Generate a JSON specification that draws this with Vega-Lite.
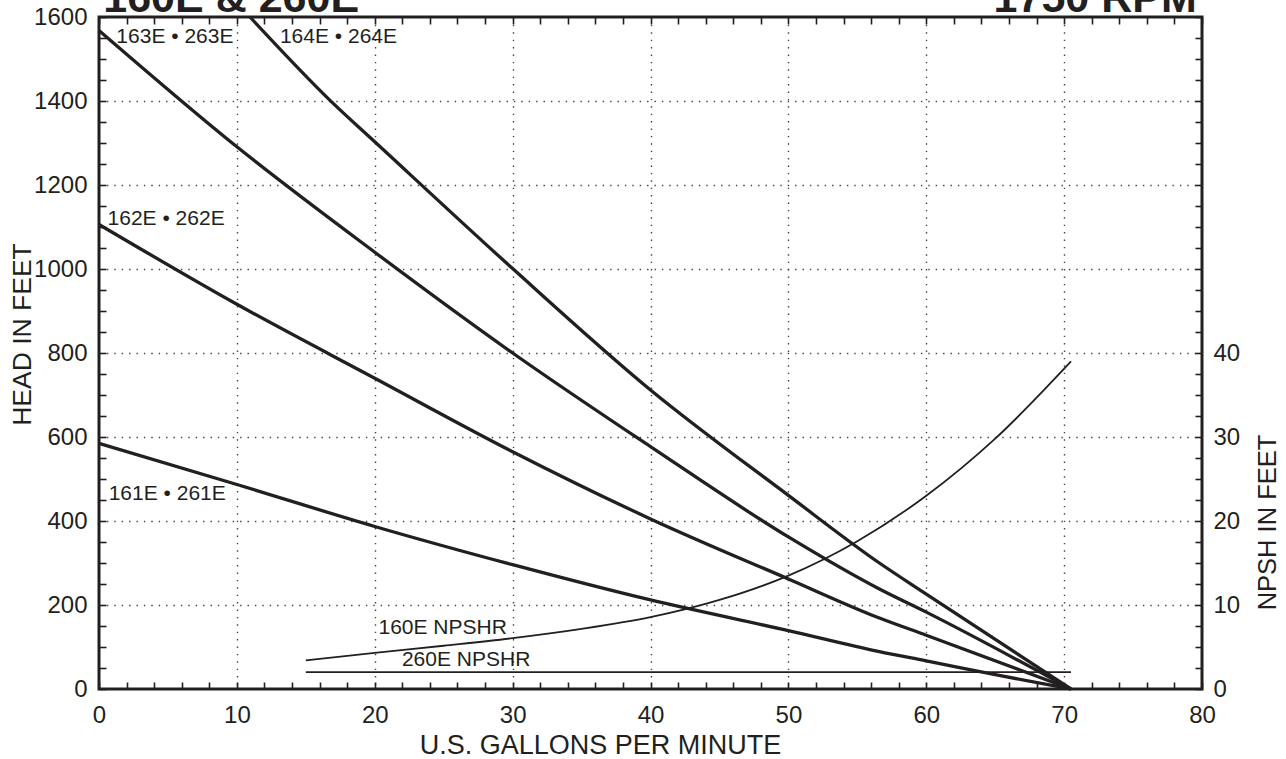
{
  "$schema": "https://vega.github.io/schema/vega-lite/v6.json",
  "width": 1103,
  "height": 672,
  "autosize": {"type": "none"},
  "padding": {"left": 99, "top": 17, "right": 84, "bottom": 70},
  "background": "white",
  "config": {
    "font": "Liberation Sans",
    "view": {"stroke": "#231f20", "strokeWidth": 3},
    "axis": {
      "domain": false,
      "labelFont": "Liberation Sans",
      "labelFontSize": 24,
      "labelColor": "#231f20",
      "titleFont": "Liberation Sans",
      "titleFontSize": 26,
      "titleFontWeight": "normal",
      "titleColor": "#231f20",
      "tickColor": "#231f20",
      "tickWidth": 1.6,
      "tickSize": -7,
      "labelFlush": false,
      "labelOverlap": false,
      "labelBound": false,
      "gridColor": "#444444",
      "gridDash": [1.4, 6],
      "gridWidth": 1.4
    }
  },
  "datasets": {
    "head": [
      {"model": "161E", "gpm": 0, "head": 585},
      {"model": "161E", "gpm": 10, "head": 487},
      {"model": "161E", "gpm": 20, "head": 387},
      {"model": "161E", "gpm": 30, "head": 296},
      {"model": "161E", "gpm": 40, "head": 212},
      {"model": "161E", "gpm": 50, "head": 139},
      {"model": "161E", "gpm": 56.6, "head": 89},
      {"model": "161E", "gpm": 60, "head": 67},
      {"model": "161E", "gpm": 65, "head": 34},
      {"model": "161E", "gpm": 70.5, "head": 0},
      {"model": "162E", "gpm": 0, "head": 1106},
      {"model": "162E", "gpm": 10, "head": 916},
      {"model": "162E", "gpm": 20, "head": 740},
      {"model": "162E", "gpm": 30, "head": 565},
      {"model": "162E", "gpm": 40, "head": 405},
      {"model": "162E", "gpm": 50, "head": 262},
      {"model": "162E", "gpm": 56.6, "head": 169},
      {"model": "162E", "gpm": 60, "head": 128},
      {"model": "162E", "gpm": 70.5, "head": 0},
      {"model": "163E", "gpm": 0, "head": 1568},
      {"model": "163E", "gpm": 10, "head": 1291},
      {"model": "163E", "gpm": 20, "head": 1040},
      {"model": "163E", "gpm": 30, "head": 800},
      {"model": "163E", "gpm": 40, "head": 577},
      {"model": "163E", "gpm": 50, "head": 362},
      {"model": "163E", "gpm": 56.6, "head": 238},
      {"model": "163E", "gpm": 60, "head": 183},
      {"model": "163E", "gpm": 70.5, "head": 0},
      {"model": "164E", "gpm": 10.95, "head": 1600},
      {"model": "164E", "gpm": 16.87, "head": 1398},
      {"model": "164E", "gpm": 20, "head": 1303},
      {"model": "164E", "gpm": 30, "head": 1001},
      {"model": "164E", "gpm": 40, "head": 712},
      {"model": "164E", "gpm": 50, "head": 461},
      {"model": "164E", "gpm": 56.6, "head": 300},
      {"model": "164E", "gpm": 60, "head": 226},
      {"model": "164E", "gpm": 70.5, "head": 0}
    ],
    "npsh": [
      {"model": "160E", "gpm": 15, "npsh": 3.4},
      {"model": "160E", "gpm": 20, "npsh": 4.3},
      {"model": "160E", "gpm": 25, "npsh": 5.15},
      {"model": "160E", "gpm": 30, "npsh": 6.05},
      {"model": "160E", "gpm": 35, "npsh": 7.15},
      {"model": "160E", "gpm": 40, "npsh": 8.55},
      {"model": "160E", "gpm": 45, "npsh": 10.6},
      {"model": "160E", "gpm": 50, "npsh": 13.5},
      {"model": "160E", "gpm": 55, "npsh": 17.6},
      {"model": "160E", "gpm": 60, "npsh": 23},
      {"model": "160E", "gpm": 65, "npsh": 29.8},
      {"model": "160E", "gpm": 70.5, "npsh": 39},
      {"model": "260E", "gpm": 15, "npsh": 2.0},
      {"model": "260E", "gpm": 70.5, "npsh": 2.0}
    ],
    "headLabels": [
      {"label": "163E • 263E", "gpm": 1.26, "head": 1552},
      {"label": "164E • 264E", "gpm": 13.12, "head": 1552},
      {"label": "162E • 262E", "gpm": 0.62, "head": 1120},
      {"label": "161E • 261E", "gpm": 0.7, "head": 465}
    ],
    "npshLabels": [
      {"label": "160E NPSHR", "gpm": 20.27, "npsh": 7.25},
      {"label": "260E NPSHR", "gpm": 21.97, "npsh": 3.5}
    ],
    "titles": [
      {"label": "160E & 260E", "gpm": 0.31, "head": 1611},
      {"label": "1750 RPM", "gpm": 79.62, "head": 1611}
    ]
  },
  "layer": [
    {
      "data": {"name": "head"},
      "mark": {"type": "line", "color": "#231f20", "strokeWidth": 3.3, "interpolate": "monotone"},
      "encoding": {
        "x": {
          "field": "gpm", "type": "quantitative",
          "scale": {"domain": [0, 80], "nice": false, "zero": false},
          "axis": {
            "orient": "bottom",
            "title": "U.S. GALLONS PER MINUTE",
            "titleFontSize": 27,
            "values": [0,2,4,6,8,10,12,14,16,18,20,22,24,26,28,30,32,34,36,38,40,42,44,46,48,50,52,54,56,58,60,62,64,66,68,70,72,74,76,78,80],
            "labelExpr": "datum.value % 10 === 0 ? '' + datum.value : ''",
            "labelPadding": 21,
            "grid": true,
            "gridOpacity": {"condition": {"test": "datum.value % 10 === 0 && datum.value > 0 && datum.value < 80", "value": 1}, "value": 0},
            "titleX": 501,
            "titleY": 56,
            "titleAlign": "center",
            "titleBaseline": "middle"
          }
        },
        "y": {
          "field": "head", "type": "quantitative",
          "scale": {"domain": [0, 1600], "nice": false, "zero": false},
          "axis": {
            "orient": "left",
            "title": "HEAD IN FEET",
            "titleFontSize": 26.5,
            "values": [0,50,100,150,200,250,300,350,400,450,500,550,600,650,700,750,800,850,900,950,1000,1050,1100,1150,1200,1250,1300,1350,1400,1450,1500,1550,1600],
            "labelExpr": "datum.value % 200 === 0 ? '' + datum.value : ''",
            "labelPadding": 19,
            "grid": true,
            "gridOpacity": {"condition": {"test": "datum.value % 200 === 0 && datum.value > 0 && datum.value < 1600", "value": 1}, "value": 0},
            "titleX": -77,
            "titleY": 317,
            "titleAngle": 270,
            "titleBaseline": "middle",
            "titleAlign": "center"
          }
        },
        "detail": {"field": "model"}
      }
    },
    {
      "data": {"name": "headLabels"},
      "mark": {"type": "text", "fontSize": 21, "color": "#231f20", "align": "left", "baseline": "middle", "font": "Liberation Sans"},
      "encoding": {
        "x": {"field": "gpm", "type": "quantitative", "scale": {"domain": [0, 80], "nice": false, "zero": false}, "axis": null},
        "y": {"field": "head", "type": "quantitative", "scale": {"domain": [0, 1600], "nice": false, "zero": false}, "axis": null},
        "text": {"field": "label"}
      }
    },
    {
      "data": {"name": "titles"},
      "transform": [{"filter": "datum.label === '160E & 260E'"}],
      "mark": {"type": "text", "fontSize": 43, "fontWeight": "bold", "color": "#231f20", "align": "left", "baseline": "alphabetic", "font": "Liberation Sans"},
      "encoding": {
        "x": {"field": "gpm", "type": "quantitative", "scale": {"domain": [0, 80], "nice": false, "zero": false}, "axis": null},
        "y": {"field": "head", "type": "quantitative", "scale": {"domain": [0, 1600], "nice": false, "zero": false}, "axis": null},
        "text": {"field": "label"}
      }
    },
    {
      "data": {"name": "titles"},
      "transform": [{"filter": "datum.label === '1750 RPM'"}],
      "mark": {"type": "text", "fontSize": 43, "fontWeight": "bold", "color": "#231f20", "align": "right", "baseline": "alphabetic", "font": "Liberation Sans"},
      "encoding": {
        "x": {"field": "gpm", "type": "quantitative", "scale": {"domain": [0, 80], "nice": false, "zero": false}, "axis": null},
        "y": {"field": "head", "type": "quantitative", "scale": {"domain": [0, 1600], "nice": false, "zero": false}, "axis": null},
        "text": {"field": "label"}
      }
    },
    {
      "data": {"name": "npsh"},
      "mark": {"type": "line", "color": "#231f20", "strokeWidth": 1.8, "interpolate": "monotone"},
      "encoding": {
        "x": {
          "field": "gpm", "type": "quantitative",
          "scale": {"domain": [0, 80], "nice": false, "zero": false},
          "axis": {
            "orient": "top",
            "title": null,
            "values": [0,2,4,6,8,10,12,14,16,18,20,22,24,26,28,30,32,34,36,38,40,42,44,46,48,50,52,54,56,58,60,62,64,66,68,70,72,74,76,78,80],
            "labels": false,
            "grid": false
          }
        },
        "y": {
          "field": "npsh", "type": "quantitative",
          "scale": {"domain": [0, 80], "nice": false, "zero": false},
          "axis": {
            "orient": "right",
            "title": "NPSH IN FEET",
            "titleFontSize": 25.5,
            "values": [0,2.5,5,7.5,10,12.5,15,17.5,20,22.5,25,27.5,30,32.5,35,37.5,40,42.5,45,47.5,50,52.5,55,57.5,60,62.5,65,67.5,70,72.5,75,77.5,80],
            "labelExpr": "datum.value % 10 === 0 && datum.value <= 40 ? '' + datum.value : ''",
            "labelPadding": 18,
            "grid": false,
            "titleX": 65,
            "titleY": 505,
            "titleAngle": 270,
            "titleBaseline": "middle",
            "titleAlign": "center"
          }
        },
        "detail": {"field": "model"}
      }
    },
    {
      "data": {"name": "npshLabels"},
      "mark": {"type": "text", "fontSize": 21, "color": "#231f20", "align": "left", "baseline": "middle", "font": "Liberation Sans"},
      "encoding": {
        "x": {"field": "gpm", "type": "quantitative", "scale": {"domain": [0, 80], "nice": false, "zero": false}, "axis": null},
        "y": {"field": "npsh", "type": "quantitative", "scale": {"domain": [0, 80], "nice": false, "zero": false}, "axis": null},
        "text": {"field": "label"}
      }
    }
  ],
  "resolve": {"scale": {"y": "independent"}, "axis": {"x": "independent", "y": "independent"}}
}
